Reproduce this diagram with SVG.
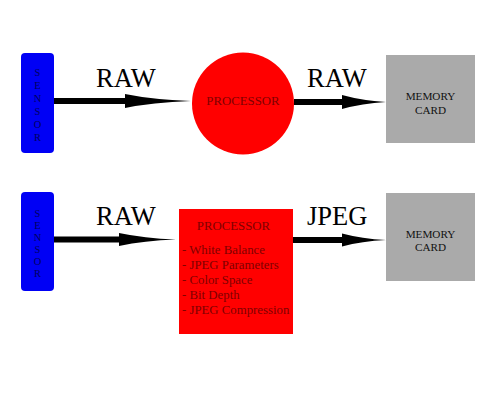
<svg xmlns="http://www.w3.org/2000/svg" width="500" height="400" viewBox="0 0 500 400">
<style>
.sensor{fill:#0000f5;}
.stxt{font-family:"Liberation Serif",serif;font-size:10.5px;fill:#000060;text-anchor:middle;}
.proc{fill:#ff0000;}
.ptxt{font-family:"Liberation Serif",serif;font-size:12.8px;fill:#800000;}
.mem{fill:#aaaaaa;}
.mtxt{font-family:"Liberation Serif",serif;font-size:11.2px;fill:#111;text-anchor:middle;}
.lbl{font-family:"Liberation Serif",serif;font-size:26.5px;fill:#000;}
.shaft{stroke:#000;stroke-width:6;fill:none;}
.head{fill:#000;}
</style>
<rect width="500" height="400" fill="#fff"/>
<g id="sensor1">
<rect class="sensor" x="21" y="53" width="33" height="100" rx="4"/>
<text class="stxt" x="37.5" y="76">S</text>
<text class="stxt" x="37.5" y="89">E</text>
<text class="stxt" x="37.5" y="102">N</text>
<text class="stxt" x="37.5" y="115">S</text>
<text class="stxt" x="37.5" y="128">O</text>
<text class="stxt" x="37.5" y="141">R</text>
</g>
<g id="processor1">
<circle class="proc" cx="243" cy="103.5" r="51"/>
<text class="ptxt" x="243" y="104.5" text-anchor="middle">PROCESSOR</text>
</g>
<g id="memory1">
<rect class="mem" x="386" y="55" width="89" height="88"/>
<text class="mtxt" x="430.5" y="100">MEMORY</text>
<text class="mtxt" x="430.5" y="113.5">CARD</text>
</g>
<g id="sensor2">
<rect class="sensor" x="21" y="192" width="33" height="99" rx="4"/>
<text class="stxt" x="37.5" y="217">S</text>
<text class="stxt" x="37.5" y="229">E</text>
<text class="stxt" x="37.5" y="241">N</text>
<text class="stxt" x="37.5" y="253">S</text>
<text class="stxt" x="37.5" y="265">O</text>
<text class="stxt" x="37.5" y="277">R</text>
</g>
<g id="processor2">
<rect class="proc" x="179" y="209" width="114" height="125"/>
<text class="ptxt" x="233.5" y="230" text-anchor="middle">PROCESSOR</text>
<text class="ptxt" x="182" y="254">- White Balance</text>
<text class="ptxt" x="182" y="269">- JPEG Parameters</text>
<text class="ptxt" x="182" y="284">- Color Space</text>
<text class="ptxt" x="182" y="299">- Bit Depth</text>
<text class="ptxt" x="182" y="314">- JPEG Compression</text>
</g>
<g id="memory2">
<rect class="mem" x="386" y="193" width="89" height="88"/>
<text class="mtxt" x="430.5" y="237.5">MEMORY</text>
<text class="mtxt" x="430.5" y="251">CARD</text>
</g>
<g id="connectors">
<g id="c1">
<line class="shaft" x1="54" y1="101" x2="127" y2="101"/>
<path class="head" d="M125,94 Q152,99.5 191,101 Q152,102.5 125,108 Z"/>
<text class="lbl" x="96" y="87">RAW</text>
</g>
<g id="c2">
<line class="shaft" x1="294" y1="102" x2="344" y2="102"/>
<path class="head" d="M342,95 Q362,100.5 386,102 Q362,103.5 342,109 Z"/>
<text class="lbl" x="307" y="87">RAW</text>
</g>
<g id="c3">
<line class="shaft" x1="54" y1="239.5" x2="121" y2="239.5"/>
<path class="head" d="M119,233 Q144,238.3 176,239.5 Q144,240.7 119,246 Z"/>
<text class="lbl" x="96" y="225">RAW</text>
</g>
<g id="c4">
<line class="shaft" x1="293" y1="240" x2="344" y2="240"/>
<path class="head" d="M342,233.5 Q362,238.8 386,240 Q362,241.2 342,246.5 Z"/>
<text class="lbl" x="307" y="225">JPEG</text>
</g>
</g>
</svg>
